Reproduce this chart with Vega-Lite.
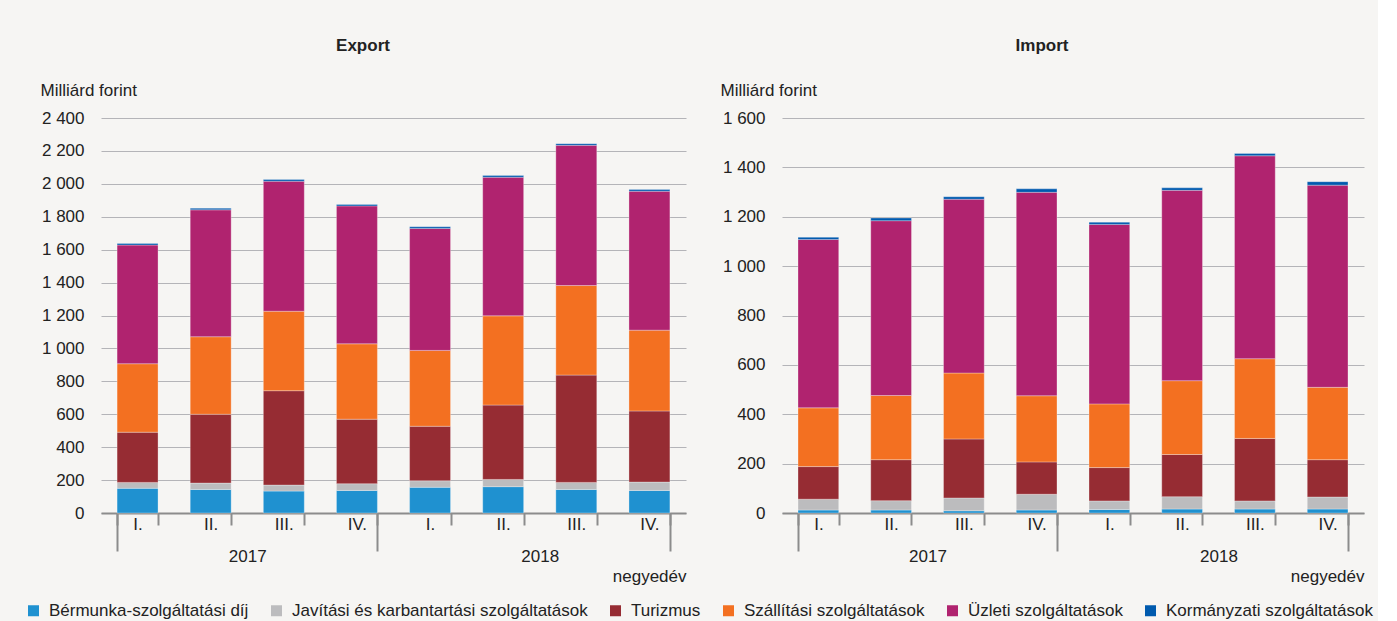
{
  "$schema": "https://vega.github.io/schema/vega-lite/v6.json",
  "background": "#f6f5f3",
  "padding": {"left": 25, "top": 37, "right": 5, "bottom": 5},
  "spacing": 34,
  "config": {
    "font": "Liberation Sans, Arial, sans-serif",
    "view": {"stroke": null},
    "axis": {"labelFontSize": 17, "titleFontSize": 17, "labelColor": "#222222", "titleColor": "#222222", "titleFontWeight": "normal"},
    "title": {"fontSize": 17, "fontWeight": "bold", "color": "#222222", "frame": "bounds", "anchor": "middle", "offset": 26}
  },
  "datasets": {
    "adat": [
      {"panel": "Export", "period": "2017 I.", "Bérmunka-szolgáltatási díj": 150, "Javítási és karbantartási szolgáltatások": 36, "Turizmus": 305, "Szállítási szolgáltatások": 416, "Üzleti szolgáltatások": 721, "Kormányzati szolgáltatások": 10},
      {"panel": "Export", "period": "2017 II.", "Bérmunka-szolgáltatási díj": 143, "Javítási és karbantartási szolgáltatások": 39, "Turizmus": 418, "Szállítási szolgáltatások": 471, "Üzleti szolgáltatások": 771, "Kormányzati szolgáltatások": 10},
      {"panel": "Export", "period": "2017 III.", "Bérmunka-szolgáltatási díj": 133, "Javítási és karbantartási szolgáltatások": 37, "Turizmus": 573, "Szállítási szolgáltatások": 483, "Üzleti szolgáltatások": 790, "Kormányzati szolgáltatások": 10},
      {"panel": "Export", "period": "2017 IV.", "Bérmunka-szolgáltatási díj": 137, "Javítási és karbantartási szolgáltatások": 41, "Turizmus": 392, "Szállítási szolgáltatások": 458, "Üzleti szolgáltatások": 838, "Kormányzati szolgáltatások": 9},
      {"panel": "Export", "period": "2018 I.", "Bérmunka-szolgáltatási díj": 156, "Javítási és karbantartási szolgáltatások": 40, "Turizmus": 331, "Szállítási szolgáltatások": 461, "Üzleti szolgáltatások": 741, "Kormányzati szolgáltatások": 10},
      {"panel": "Export", "period": "2018 II.", "Bérmunka-szolgáltatási díj": 160, "Javítási és karbantartási szolgáltatások": 44, "Turizmus": 452, "Szállítási szolgáltatások": 542, "Üzleti szolgáltatások": 842, "Kormányzati szolgáltatások": 10},
      {"panel": "Export", "period": "2018 III.", "Bérmunka-szolgáltatási díj": 143, "Javítási és karbantartási szolgáltatások": 43, "Turizmus": 652, "Szállítási szolgáltatások": 544, "Üzleti szolgáltatások": 852, "Kormányzati szolgáltatások": 10},
      {"panel": "Export", "period": "2018 IV.", "Bérmunka-szolgáltatási díj": 137, "Javítási és karbantartási szolgáltatások": 51, "Turizmus": 432, "Szállítási szolgáltatások": 491, "Üzleti szolgáltatások": 844, "Kormányzati szolgáltatások": 10},
      {"panel": "Import", "period": "2017 I.", "Bérmunka-szolgáltatási díj": 12, "Javítási és karbantartási szolgáltatások": 44, "Turizmus": 132, "Szállítási szolgáltatások": 238, "Üzleti szolgáltatások": 682, "Kormányzati szolgáltatások": 9},
      {"panel": "Import", "period": "2017 II.", "Bérmunka-szolgáltatási díj": 12, "Javítási és karbantartási szolgáltatások": 38, "Turizmus": 166, "Szállítási szolgáltatások": 260, "Üzleti szolgáltatások": 708, "Kormányzati szolgáltatások": 11},
      {"panel": "Import", "period": "2017 III.", "Bérmunka-szolgáltatási díj": 9, "Javítási és karbantartási szolgáltatások": 52, "Turizmus": 239, "Szállítási szolgáltatások": 267, "Üzleti szolgáltatások": 704, "Kormányzati szolgáltatások": 10},
      {"panel": "Import", "period": "2017 IV.", "Bérmunka-szolgáltatási díj": 12, "Javítási és karbantartási szolgáltatások": 64, "Turizmus": 131, "Szállítási szolgáltatások": 268, "Üzleti szolgáltatások": 824, "Kormányzati szolgáltatások": 14},
      {"panel": "Import", "period": "2018 I.", "Bérmunka-szolgáltatási díj": 14, "Javítási és karbantartási szolgáltatások": 35, "Turizmus": 135, "Szállítási szolgáltatások": 258, "Üzleti szolgáltatások": 727, "Kormányzati szolgáltatások": 9},
      {"panel": "Import", "period": "2018 II.", "Bérmunka-szolgáltatási díj": 16, "Javítási és karbantartási szolgáltatások": 50, "Turizmus": 171, "Szállítási szolgáltatások": 299, "Üzleti szolgáltatások": 771, "Kormányzati szolgáltatások": 10},
      {"panel": "Import", "period": "2018 III.", "Bérmunka-szolgáltatási díj": 16, "Javítási és karbantartási szolgáltatások": 33, "Turizmus": 253, "Szállítási szolgáltatások": 323, "Üzleti szolgáltatások": 822, "Kormányzati szolgáltatások": 9},
      {"panel": "Import", "period": "2018 IV.", "Bérmunka-szolgáltatási díj": 16, "Javítási és karbantartási szolgáltatások": 49, "Turizmus": 151, "Szállítási szolgáltatások": 293, "Üzleti szolgáltatások": 819, "Kormányzati szolgáltatások": 14}
    ],
    "kategoriak": [
      {"category": "Bérmunka-szolgáltatási díj", "sorrend": 1},
      {"category": "Javítási és karbantartási szolgáltatások", "sorrend": 2},
      {"category": "Turizmus", "sorrend": 3},
      {"category": "Szállítási szolgáltatások", "sorrend": 4},
      {"category": "Üzleti szolgáltatások", "sorrend": 5},
      {"category": "Kormányzati szolgáltatások", "sorrend": 6}
    ]
  },
  "data": {"name": "adat"},
  "transform": [
    {"fold": ["Bérmunka-szolgáltatási díj", "Javítási és karbantartási szolgáltatások", "Turizmus", "Szállítási szolgáltatások", "Üzleti szolgáltatások", "Kormányzati szolgáltatások"], "as": ["category", "value"]},
    {"lookup": "category", "from": {"data": {"name": "kategoriak"}, "key": "category", "fields": ["sorrend"]}}
  ],
  "hconcat": [
    {
      "title": "Export",
      "width": 585,
      "height": 395,
      "transform": [{"filter": "datum.panel == 'Export'"}],
      "layer": [
        {
          "mark": {"type": "bar", "stroke": "#ffffff", "strokeWidth": 0.6, "strokeOpacity": 0.5},
          "encoding": {
            "x": {"field": "period", "type": "ordinal", "sort": null,
              "scale": {"paddingInner": 0.44, "paddingOuter": 0.22},
              "axis": {"title": null, "orient": "bottom", "labelAngle": 0, "labelExpr": "split(datum.value, ' ')[1]", "tickBand": "extent",
                "tickSize": 12, "tickColor": "#8c8c8c", "tickWidth": 2, "domainColor": "#8c8c8c", "domainWidth": 2, "labelPadding": -9, "labelBaseline": "top"}},
            "y": {"field": "value", "type": "quantitative", "stack": "zero",
              "scale": {"domain": [0, 2400], "nice": false},
              "axis": {"title": "Milliárd forint", "titleAngle": 0, "titleAlign": "left", "titleBaseline": "alphabetic", "titleX": -61, "titleY": -23,
                "values": [0, 200, 400, 600, 800, 1000, 1200, 1400, 1600, 1800, 2000, 2200, 2400],
                "labelExpr": "replace(format(datum.value, ','), ',', ' ')",
                "ticks": false, "domain": false, "labelPadding": 17, "gridColor": "#b4b4b8", "gridWidth": 1.2}},
            "order": {"field": "sorrend", "type": "quantitative", "sort": "ascending"},
            "color": {"field": "category", "type": "nominal",
              "scale": {"domain": ["Bérmunka-szolgáltatási díj", "Javítási és karbantartási szolgáltatások", "Turizmus", "Szállítási szolgáltatások", "Üzleti szolgáltatások", "Kormányzati szolgáltatások"],
                "range": ["#1f91d0", "#bcbcbe", "#962c33", "#f37021", "#b0236f", "#005aae"]},
              "legend": {"title": null, "orient": "none", "legendX": -76, "legendY": 484, "direction": "horizontal", "columns": 6, "symbolType": "square", "symbolSize": 121, "symbolStrokeWidth": 0, "labelFontSize": 17, "labelColor": "#222222", "labelLimit": 0, "columnPadding": 19, "labelOffset": 7}}
          }
        },
        {
          "mark": {"type": "point", "opacity": 0},
          "encoding": {
            "x": {"field": "period", "type": "ordinal", "sort": null,
              "scale": {"paddingInner": 0.44, "paddingOuter": 0.22},
              "axis": {"title": "negyedév", "orient": "bottom", "titleAnchor": "end", "titlePadding": 4, "labelAngle": 0, "domain": false, "tickBand": "extent", "tickSize": 38,
                "tickColor": "#8c8c8c", "tickWidth": 2,
                "tickOpacity": {"condition": {"test": "!isDefined(datum.value) || datum.value == '2017 IV.' || datum.value == '2018 IV.'", "value": 1}, "value": 0},
                "labelPadding": -3, "labelBaseline": "top", "labelOffset": 36.5,
                "labelExpr": "datum.value == '2017 II.' ? '2017' : datum.value == '2018 II.' ? '2018' : ''"}}
          }
        }
      ],
      "resolve": {"scale": {"x": "independent"}}
    },
    {
      "title": "Import",
      "width": 582,
      "height": 395,
      "transform": [{"filter": "datum.panel == 'Import'"}],
      "layer": [
        {
          "mark": {"type": "bar", "stroke": "#ffffff", "strokeWidth": 0.6, "strokeOpacity": 0.5},
          "encoding": {
            "x": {"field": "period", "type": "ordinal", "sort": null,
              "scale": {"paddingInner": 0.44, "paddingOuter": 0.22},
              "axis": {"title": null, "orient": "bottom", "labelAngle": 0, "labelExpr": "split(datum.value, ' ')[1]", "tickBand": "extent",
                "tickSize": 12, "tickColor": "#8c8c8c", "tickWidth": 2, "domainColor": "#8c8c8c", "domainWidth": 2, "labelPadding": -9, "labelBaseline": "top"}},
            "y": {"field": "value", "type": "quantitative", "stack": "zero",
              "scale": {"domain": [0, 1600], "nice": false},
              "axis": {"title": "Milliárd forint", "titleAngle": 0, "titleAlign": "left", "titleBaseline": "alphabetic", "titleX": -62, "titleY": -23,
                "values": [0, 200, 400, 600, 800, 1000, 1200, 1400, 1600],
                "labelExpr": "replace(format(datum.value, ','), ',', ' ')",
                "ticks": false, "domain": false, "labelPadding": 17, "gridColor": "#b4b4b8", "gridWidth": 1.2}},
            "order": {"field": "sorrend", "type": "quantitative", "sort": "ascending"},
            "color": {"field": "category", "type": "nominal",
              "scale": {"domain": ["Bérmunka-szolgáltatási díj", "Javítási és karbantartási szolgáltatások", "Turizmus", "Szállítási szolgáltatások", "Üzleti szolgáltatások", "Kormányzati szolgáltatások"],
                "range": ["#1f91d0", "#bcbcbe", "#962c33", "#f37021", "#b0236f", "#005aae"]}}
          }
        },
        {
          "mark": {"type": "point", "opacity": 0},
          "encoding": {
            "x": {"field": "period", "type": "ordinal", "sort": null,
              "scale": {"paddingInner": 0.44, "paddingOuter": 0.22},
              "axis": {"title": "negyedév", "orient": "bottom", "titleAnchor": "end", "titlePadding": 4, "labelAngle": 0, "domain": false, "tickBand": "extent", "tickSize": 38,
                "tickColor": "#8c8c8c", "tickWidth": 2,
                "tickOpacity": {"condition": {"test": "!isDefined(datum.value) || datum.value == '2017 IV.' || datum.value == '2018 IV.'", "value": 1}, "value": 0},
                "labelPadding": -3, "labelBaseline": "top", "labelOffset": 36.4,
                "labelExpr": "datum.value == '2017 II.' ? '2017' : datum.value == '2018 II.' ? '2018' : ''"}}
          }
        }
      ],
      "resolve": {"scale": {"x": "independent"}}
    }
  ]
}
